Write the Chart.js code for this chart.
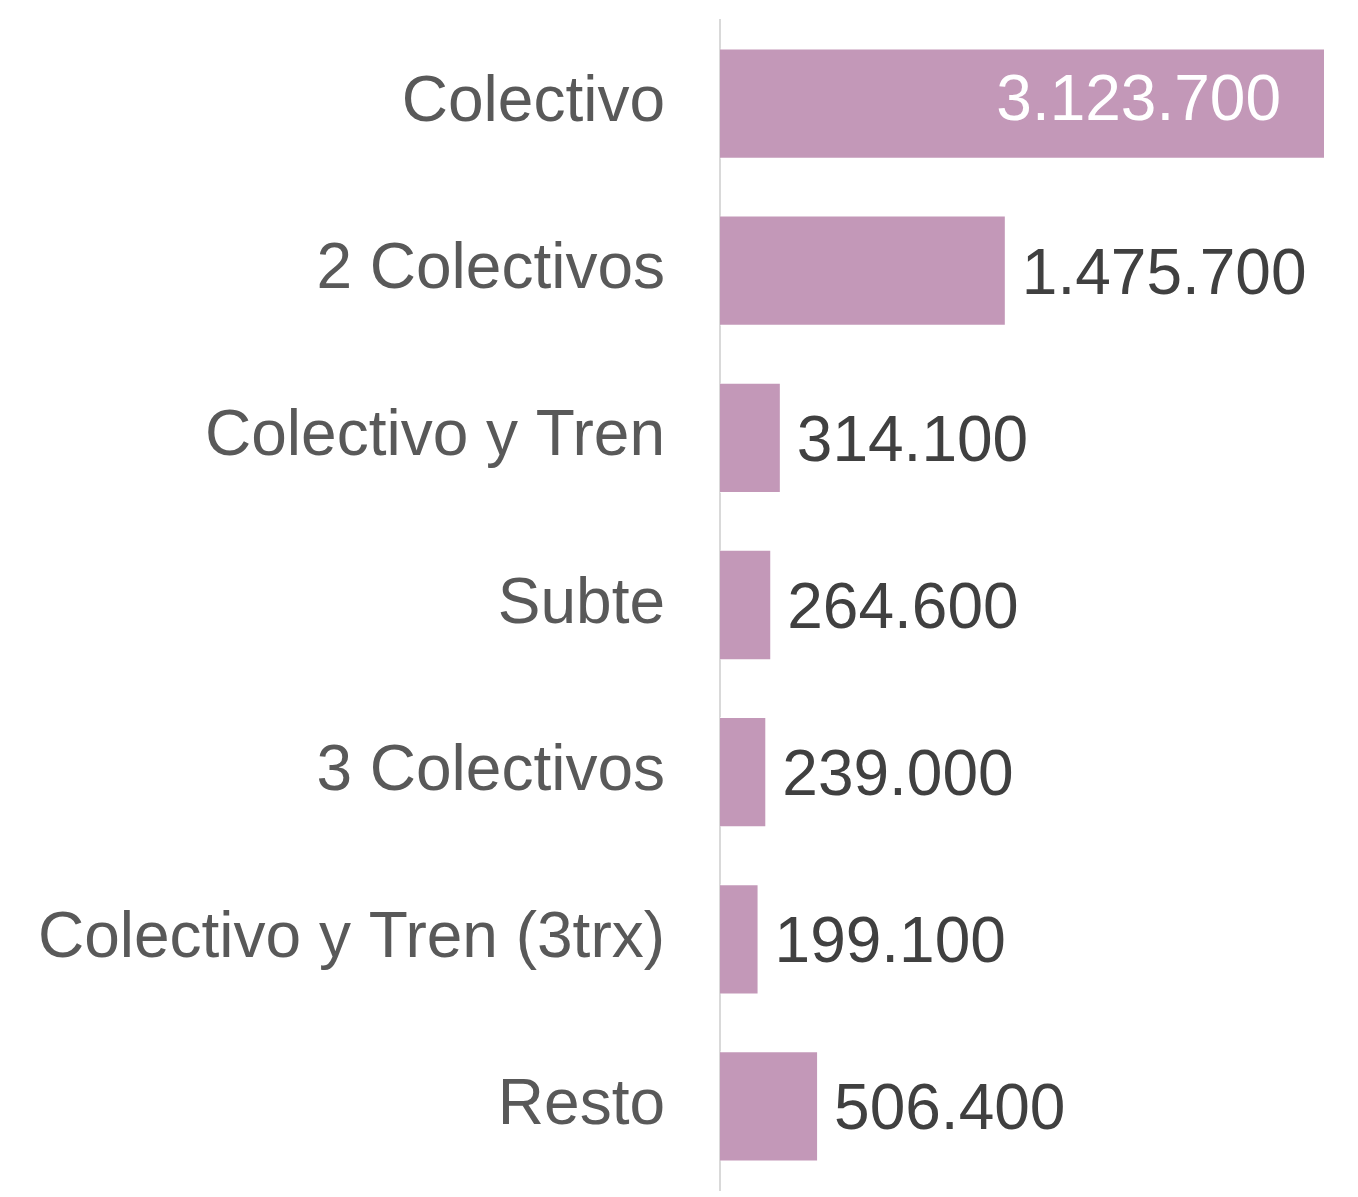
<!DOCTYPE html>
<html>
<head>
<meta charset="utf-8">
<script src="https://cdn.jsdelivr.net/npm/chart.js@4"></script>
<style>
    html, body { margin: 0; padding: 0; background: #fff; }
    #wrap { width: 1358px; height: 1197px; position: relative; }
</style>
</head>
<body>
<div id="wrap"><canvas id="chart"></canvas></div>
<script>
// Chart data
const categories = [
    "Colectivo",
    "2 Colectivos",
    "Colectivo y Tren",
    "Subte",
    "3 Colectivos",
    "Colectivo y Tren (3trx)",
    "Resto",
];
const viajes = [3123700, 1475700, 314100, 264600, 239000, 199100, 506400];

const FONT = "'Liberation Sans', Arial, sans-serif";
const BAR_COLOR = "#c398b8";

// Format like 3.123.700
function formatValue(v) {
    return v.toString().replace(/\B(?=(\d{3})+(?!\d))/g, ".");
}

// Draws value labels: inside the longest bar, outside the others
const valueLabels = {
    id: "valueLabels",
    afterDatasetsDraw(chart) {
        const ctx = chart.ctx;
        const meta = chart.getDatasetMeta(0);
        const max = Math.max(...viajes);
        ctx.save();
        ctx.font = `64px ${FONT}`;
        ctx.textBaseline = "alphabetic";
        meta.data.forEach((bar, i) => {
            const text = formatValue(viajes[i]);
            if (viajes[i] === max) {
                ctx.fillStyle = "#ffffff";
                ctx.textAlign = "right";
                ctx.fillText(text, bar.x - 44, bar.y + 16);
            } else {
                ctx.fillStyle = "#404040";
                ctx.textAlign = "left";
                ctx.fillText(text, bar.x + 16, bar.y + 23);
            }
        });
        ctx.restore();
    },
};

new Chart(document.getElementById("chart"), {
    type: "bar",
    data: {
        labels: categories,
        datasets: [
            {
                data: viajes,
                backgroundColor: BAR_COLOR,
                borderColor: "rgba(255,255,255,0.6)",
                borderWidth: 1,
                barPercentage: 0.66,
                categoryPercentage: 1,
            },
        ],
    },
    options: {
        indexAxis: "y",
        responsive: true,
        maintainAspectRatio: false,
        animation: false,
        layout: {
            padding: { top: 20, bottom: 7, right: 33, left: 0 },
        },
        plugins: {
            legend: { display: false },
            tooltip: { enabled: false },
        },
        scales: {
            x: {
                display: false,
                min: 0,
                max: 3123700,
            },
            y: {
                afterFit(scale) {
                    scale.width = 720;
                    // no extra room for half label heights
                    scale.paddingTop = 0;
                    scale.paddingBottom = 0;
                },
                grid: { display: false, drawTicks: false },
                border: { display: true, color: "#d9d9d9", width: 2 },
                ticks: {
                    padding: 55,
                    color: "#595959",
                    font: { family: FONT, size: 64 },
                },
            },
        },
    },
    plugins: [valueLabels],
});
</script>
</body>
</html>
